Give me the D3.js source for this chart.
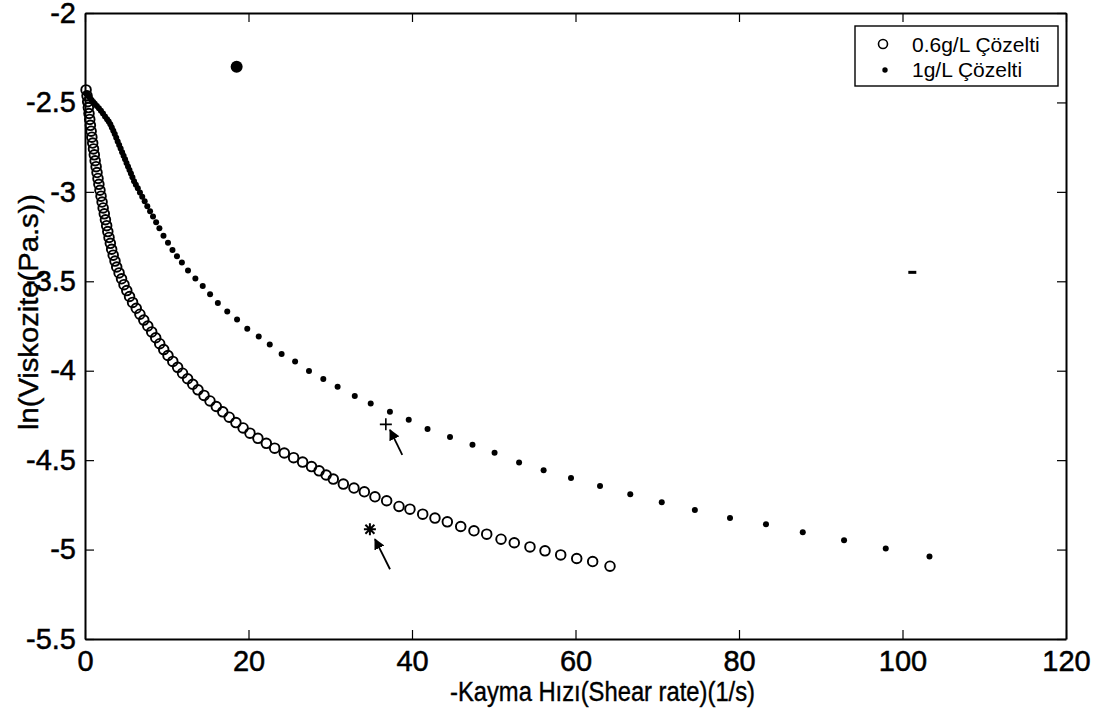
<!DOCTYPE html>
<html>
<head>
<meta charset="utf-8">
<script src="https://cdn.jsdelivr.net/npm/d3@7"></script>
<style>
  html, body { margin: 0; padding: 0; background: #fff; }
  text { font-family: "Liberation Sans", Arial, Helvetica, sans-serif; fill: #000; }
</style>
</head>
<body>
<svg id="chart"></svg>
<script>
// 0.6 g/L solution (open circles)
const shear06 = [0.13, 0.25, 0.33, 0.41, 0.49, 0.58, 0.66, 0.75, 0.84, 0.94,
  1.04, 1.14, 1.24, 1.36, 1.47, 1.59, 1.70, 1.83, 1.96, 2.09,
  2.22, 2.36, 2.50, 2.65, 2.79, 2.94, 3.10, 3.26, 3.45, 3.67,
  3.88, 4.17, 4.47, 4.77, 5.11, 5.45, 5.82, 6.27, 6.72, 7.19,
  7.68, 8.16, 8.65, 9.14, 9.63, 10.15, 10.74, 11.33, 11.93, 12.55,
  13.18, 13.82, 14.56, 15.29, 16.06, 16.85, 17.64, 18.46, 19.34, 20.18,
  21.15, 22.18, 23.2, 24.38, 25.52, 26.62, 27.71, 28.64, 29.5, 30.37,
  31.60, 32.90, 34.17, 35.47, 36.90, 38.41, 39.75, 41.31, 42.81, 44.32,
  45.96, 47.58, 49.14, 50.89, 52.51, 54.43, 56.27, 58.19, 60.15, 62.10,
  64.22];
const lnVisc06 = [-2.43, -2.463, -2.496, -2.529, -2.562, -2.595, -2.628, -2.661, -2.694, -2.727,
  -2.76, -2.793, -2.826, -2.859, -2.892, -2.925, -2.958, -2.991, -3.024, -3.057,
  -3.09, -3.123, -3.156, -3.189, -3.222, -3.255, -3.288, -3.321, -3.354, -3.387,
  -3.42, -3.453, -3.486, -3.519, -3.552, -3.585, -3.618, -3.651, -3.684, -3.717,
  -3.75, -3.783, -3.816, -3.849, -3.882, -3.915, -3.948, -3.981, -4.014, -4.045,
  -4.076, -4.107, -4.138, -4.169, -4.2, -4.23, -4.26, -4.29, -4.32, -4.349,
  -4.378, -4.406, -4.433, -4.46, -4.486, -4.511, -4.536, -4.56, -4.583, -4.606,
  -4.634, -4.656, -4.677, -4.705, -4.727, -4.759, -4.774, -4.802, -4.824, -4.845,
  -4.871, -4.895, -4.914, -4.942, -4.962, -4.985, -5.007, -5.030, -5.050, -5.067,
  -5.093];

// 1 g/L solution (filled dots)
const shear1 = [0.15, 0.3, 0.45, 0.6, 0.8, 1.0, 1.2, 1.45, 1.7, 1.95,
  2.2, 2.45, 2.7, 2.9, 3.1, 3.28, 3.46, 3.64, 3.82, 4.0,
  4.18, 4.36, 4.54, 4.72, 4.9, 5.08, 5.26, 5.44, 5.62, 5.8,
  6.0, 6.22, 6.46, 6.72, 7.0, 7.3, 7.62, 7.96, 8.32, 8.7,
  9.1, 9.6, 10.15, 10.7, 11.25, 11.85, 12.6, 13.5, 14.4, 15.3,
  16.25, 17.4, 18.6, 19.85, 21.25, 22.6, 24.05, 25.7, 27.4, 29.15,
  30.9, 33.0, 34.95, 37.3, 39.6, 41.9, 44.65, 47.4, 50.1, 53.1,
  56.1, 59.45, 63.0, 66.7, 70.55, 74.6, 78.9, 83.3, 87.8, 92.85,
  97.95, 103.3];
const lnVisc1 = [-2.45, -2.458, -2.466, -2.475, -2.487, -2.498, -2.508, -2.52, -2.533, -2.547,
  -2.562, -2.578, -2.594, -2.606, -2.622, -2.64, -2.658, -2.677, -2.697, -2.718,
  -2.738, -2.758, -2.778, -2.798, -2.818, -2.838, -2.858, -2.878, -2.898, -2.918,
  -2.94, -2.96, -2.98, -3.003, -3.027, -3.053, -3.08, -3.108, -3.138, -3.17,
  -3.204, -3.245, -3.285, -3.325, -3.36, -3.395, -3.44, -3.485, -3.527, -3.573,
  -3.622, -3.669, -3.714, -3.766, -3.809, -3.854, -3.906, -3.949, -4.001, -4.046,
  -4.089, -4.141, -4.184, -4.229, -4.274, -4.326, -4.371, -4.414, -4.459, -4.513,
  -4.556, -4.600, -4.645, -4.690, -4.735, -4.779, -4.824, -4.858, -4.903, -4.948,
  -4.994, -5.039];

// stray marks on the scanned figure, and the two annotated points with arrows
const blobs = [[18.55, -2.30]];
const dashes = [[101.2, -3.45]];
const plusMarks = [[36.8, -4.30]];
const starMarks = [[34.85, -4.886]];
const arrows = [[[38.81, -4.47], [37.31, -4.331]], [[37.31, -5.11], [35.47, -4.942]]];

const xTicks = [0, 20, 40, 60, 80, 100, 120];
const yTicks = [-2, -2.5, -3, -3.5, -4, -4.5, -5, -5.5];
const legendLabels = ['0.6g/L Çözelti', '1g/L Çözelti'];
const xTitle = '-Kayma Hızı(Shear rate)(1/s)';
const yTitle = 'ln(Viskozite(Pa.s))';

const svg = d3.select('#chart').attr('width', 1098).attr('height', 720);
svg.append('rect').attr('width', 1098).attr('height', 720).attr('fill', '#fff');

const plotLeft = 85, plotRight = 1066, plotTop = 13, plotBottom = 639;
const x = d3.scaleLinear().domain([0, 120]).range([plotLeft, plotRight]);
const y = d3.scaleLinear().domain([-5.5, -2]).range([plotBottom, plotTop]);

svg.append('defs').append('marker')
  .attr('id', 'head')
  .attr('viewBox', '0 0 10 10')
  .attr('refX', 9).attr('refY', 5)
  .attr('markerWidth', 11).attr('markerHeight', 11)
  .attr('markerUnits', 'userSpaceOnUse')
  .attr('orient', 'auto')
  .append('path').attr('d', 'M0,0L10,5L0,10Z').attr('fill', '#000');

// axes, ticks inward on all four sides
const fmt = (d) => String(d);
const styleAxis = (g, size) => {
  g.selectAll('.domain').attr('stroke', '#000').attr('stroke-width', 2);
  g.selectAll('.tick line').attr('stroke', '#000').attr('stroke-width', 1.2);
  g.selectAll('.tick text').attr('font-size', size).attr('fill', '#000')
    .attr('stroke', '#000').attr('stroke-width', 0.5)
    .attr('font-family', '"Liberation Sans", Arial, sans-serif');
};

const gBottom = svg.append('g').attr('transform', `translate(0,${plotBottom})`)
  .call(d3.axisBottom(x).tickValues(xTicks).tickFormat(fmt).tickSizeInner(-9).tickSizeOuter(0).tickPadding(11));
styleAxis(gBottom, 29);
const gTop = svg.append('g').attr('transform', `translate(0,${plotTop})`)
  .call(d3.axisTop(x).tickValues(xTicks).tickFormat('').tickSizeInner(-9).tickSizeOuter(0));
styleAxis(gTop, 29);
const gLeft = svg.append('g').attr('transform', `translate(${plotLeft},0)`)
  .call(d3.axisLeft(y).tickValues(yTicks).tickFormat(fmt).tickSizeInner(-9).tickSizeOuter(0).tickPadding(9));
styleAxis(gLeft, 29);
const gRight = svg.append('g').attr('transform', `translate(${plotRight},0)`)
  .call(d3.axisRight(y).tickValues(yTicks).tickFormat('').tickSizeInner(-9).tickSizeOuter(0));
styleAxis(gRight, 29);

// data
const plotG = svg.append('g');
plotG.selectAll('circle.c06')
  .data(d3.zip(shear06, lnVisc06))
  .enter()
  .append('circle')
  .attr('class', 'c06')
  .attr('cx', (d) => x(d[0]))
  .attr('cy', (d) => y(d[1]))
  .attr('r', 4.8)
  .attr('fill', 'none')
  .attr('stroke', '#000')
  .attr('stroke-width', 1.9);

plotG.selectAll('circle.c1')
  .data(d3.zip(shear1, lnVisc1))
  .enter()
  .append('circle')
  .attr('class', 'c1')
  .attr('cx', (d) => x(d[0]))
  .attr('cy', (d) => y(d[1]))
  .attr('r', 3)
  .attr('fill', '#000');

// stray marks and annotations
plotG.selectAll('circle.blob').data(blobs).enter().append('circle')
  .attr('cx', (d) => x(d[0])).attr('cy', (d) => y(d[1])).attr('r', 6).attr('fill', '#000');
plotG.selectAll('line.dash').data(dashes).enter().append('line')
  .attr('x1', (d) => x(d[0]) - 4).attr('x2', (d) => x(d[0]) + 4)
  .attr('y1', (d) => y(d[1])).attr('y2', (d) => y(d[1]))
  .attr('stroke', '#000').attr('stroke-width', 3);
plotG.selectAll('path.plus').data(plusMarks).enter().append('path')
  .attr('transform', (d) => `translate(${x(d[0])},${y(d[1])})`)
  .attr('d', 'M-6,0H6M0,-6V6')
  .attr('stroke', '#000').attr('stroke-width', 1.6);
plotG.selectAll('path.star').data(starMarks).enter().append('path')
  .attr('transform', (d) => `translate(${x(d[0])},${y(d[1])})`)
  .attr('d', 'M-6,0H6M0,-6V6M-4.5,-4.5L4.5,4.5M-4.5,4.5L4.5,-4.5')
  .attr('stroke', '#000').attr('stroke-width', 2);
plotG.selectAll('line.arrow').data(arrows).enter().append('line')
  .attr('x1', (d) => x(d[0][0])).attr('y1', (d) => y(d[0][1]))
  .attr('x2', (d) => x(d[1][0])).attr('y2', (d) => y(d[1][1]))
  .attr('stroke', '#000').attr('stroke-width', 1.8)
  .attr('marker-end', 'url(#head)');

// axis titles (the scan squeezes the lettering, hence textLength)
svg.append('text')
  .attr('x', 450).attr('y', 701)
  .attr('font-size', 27)
  .attr('textLength', 305)
  .attr('lengthAdjust', 'spacingAndGlyphs')
  .attr('stroke', '#000').attr('stroke-width', 0.4)
  .text(xTitle);
svg.append('text')
  .attr('transform', 'translate(38,430) rotate(-90)')
  .attr('font-size', 27)
  .attr('textLength', 236)
  .attr('lengthAdjust', 'spacingAndGlyphs')
  .attr('stroke', '#000').attr('stroke-width', 0.4)
  .text(yTitle);

// legend
const legendG = svg.append('g');
legendG.append('rect')
  .attr('x', 855).attr('y', 26).attr('width', 203).attr('height', 60)
  .attr('fill', '#fff').attr('stroke', '#000').attr('stroke-width', 1.4);
legendG.append('circle').attr('cx', 883).attr('cy', 44).attr('r', 4.5)
  .attr('fill', 'none').attr('stroke', '#000').attr('stroke-width', 1.6);
legendG.append('circle').attr('cx', 885).attr('cy', 70).attr('r', 2.7).attr('fill', '#000');
legendG.selectAll('text')
  .data(legendLabels)
  .enter()
  .append('text')
  .attr('x', 912)
  .attr('y', (d, i) => 52 + i * 25)
  .attr('font-size', 21)
  .text((d) => d);
</script>
</body>
</html>
